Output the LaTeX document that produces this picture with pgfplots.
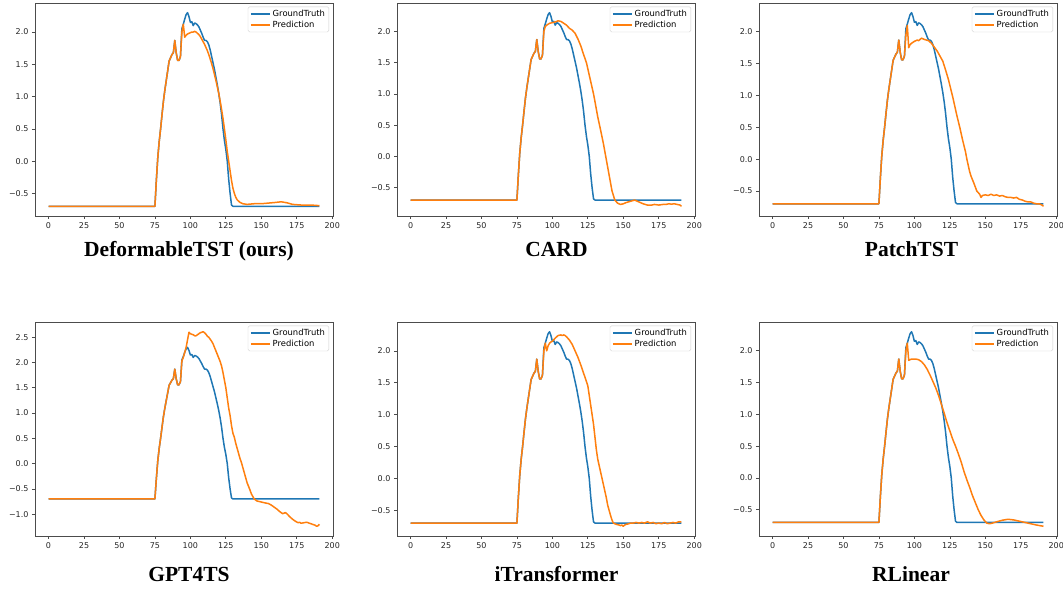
\documentclass[border=0pt]{standalone}
\usepackage{pgfplots}
\pgfplotsset{compat=1.18}
\usepackage{pgfplotstable}
\usepackage{fontspec}
\setmainfont{DejaVu Sans}
\newfontfamily\titlefont{Liberation Serif}
\definecolor{mplblue}{HTML}{1F77B4}
\definecolor{mplorange}{HTML}{FF7F0E}

\pgfplotstableread{
x y
0 -0.7
75 -0.7
76 -0.3
77 0.05
78 0.3
79 0.5
80 0.72
81 0.93
82 1.1
83 1.25
84 1.4
85 1.55
86 1.6
87 1.65
88 1.68
89 1.87
90 1.68
91 1.56
92 1.56
93 1.62
94 2.05
95 2.12
96 2.2
97 2.27
98 2.3
99 2.24
100 2.15
101 2.16
102 2.1
103 2.14
104 2.13
105 2.11
106 2.08
107 2.03
108 1.98
109 1.92
110 1.87
111 1.87
112 1.85
113 1.8
114 1.72
115 1.62
116 1.52
117 1.42
118 1.3
119 1.18
120 1.05
121 0.9
122 0.72
123 0.5
124 0.32
125 0.18
126 0.0
127 -0.28
128 -0.5
129 -0.68
130 -0.7
191 -0.7
}\gt

\pgfplotstableread{
x y
0 -0.7
75 -0.7
76 -0.3
77 0.05
78 0.3
79 0.5
80 0.72
81 0.93
82 1.1
83 1.25
84 1.4
85 1.55
86 1.6
87 1.65
88 1.68
89 1.87
90 1.68
91 1.56
92 1.56
93 1.62
94 2.0
95 2.12
96 1.92
97 1.95
98 1.97
99 1.98
100 1.99
101 2.0
102 2.0
103 2.01
104 2.0
105 1.98
106 1.96
107 1.93
108 1.89
109 1.85
110 1.81
111 1.76
112 1.71
113 1.65
114 1.58
115 1.51
116 1.43
117 1.34
118 1.25
119 1.15
120 1.05
121 0.93
122 0.8
123 0.66
124 0.5
125 0.33
126 0.15
127 0.0
128 -0.15
129 -0.3
130 -0.42
131 -0.5
132 -0.56
133 -0.6
134 -0.62
135 -0.64
137 -0.66
140 -0.67
145 -0.66
150 -0.66
155 -0.65
160 -0.64
164 -0.63
168 -0.645
172 -0.67
178 -0.68
185 -0.68
191 -0.69
}\pdef

\pgfplotstableread{
x y
0 -0.7
75 -0.7
76 -0.3
77 0.05
78 0.3
79 0.5
80 0.72
81 0.93
82 1.1
83 1.25
84 1.4
85 1.55
86 1.6
87 1.65
88 1.68
89 1.87
90 1.68
91 1.56
92 1.56
93 1.62
94 2.0
95 2.08
96 2.1
98 2.13
100 2.14
102 2.15
104 2.17
106 2.16
108 2.13
110 2.1
112 2.05
114 2.02
116 1.97
118 1.88
120 1.77
122 1.63
124 1.5
126 1.3
128 1.1
129 1.0
130 0.88
132 0.63
134 0.42
136 0.2
138 -0.05
140 -0.3
142 -0.55
144 -0.7
146 -0.75
148 -0.77
150 -0.76
152 -0.74
155 -0.72
158 -0.7
161 -0.73
164 -0.76
167 -0.78
170 -0.78
172 -0.77
175 -0.78
178 -0.77
180 -0.77
182 -0.76
184 -0.765
186 -0.76
188 -0.77
190 -0.78
191 -0.8
}\pcard

\pgfplotstableread{
x y
0 -0.7
75 -0.7
76 -0.3
77 0.05
78 0.3
79 0.5
80 0.72
81 0.93
82 1.1
83 1.25
84 1.4
85 1.55
86 1.6
87 1.65
88 1.68
89 1.87
90 1.68
91 1.56
92 1.56
93 1.62
94 1.95
95 2.1
96 1.75
97 1.8
98 1.82
100 1.85
102 1.87
103 1.86
105 1.9
107 1.88
110 1.86
112 1.82
114 1.76
116 1.7
118 1.62
120 1.54
122 1.4
124 1.25
126 1.07
127 0.98
128 0.88
130 0.68
132 0.5
134 0.3
136 0.12
137 0.0
138 -0.1
139 -0.2
140 -0.27
142 -0.38
144 -0.5
146 -0.55
147 -0.6
148 -0.57
150 -0.56
152 -0.57
154 -0.55
156 -0.57
158 -0.56
160 -0.58
162 -0.57
164 -0.59
166 -0.6
168 -0.6
170 -0.61
172 -0.6
174 -0.63
176 -0.64
178 -0.66
180 -0.67
182 -0.67
184 -0.69
186 -0.7
188 -0.7
190 -0.72
191 -0.74
}\ppatch

\pgfplotstableread{
x y
0 -0.7
75 -0.7
76 -0.3
77 0.05
78 0.3
79 0.5
80 0.72
81 0.93
82 1.1
83 1.25
84 1.4
85 1.55
86 1.6
87 1.65
88 1.68
89 1.87
90 1.68
91 1.56
92 1.56
93 1.62
94 2.03
95 2.1
96 2.2
97 2.3
98 2.45
99 2.6
100 2.57
101 2.56
102 2.55
103 2.53
104 2.53
105 2.55
106 2.57
107 2.59
108 2.6
109 2.61
110 2.59
111 2.56
112 2.52
113 2.5
114 2.46
115 2.42
116 2.37
117 2.3
118 2.23
119 2.16
120 2.09
121 2.02
122 1.93
123 1.8
124 1.65
125 1.5
126 1.3
127 1.1
128 0.95
129 0.75
130 0.6
131 0.52
132 0.4
133 0.3
134 0.2
135 0.1
136 0.02
137 -0.08
138 -0.18
139 -0.28
140 -0.38
141 -0.45
142 -0.52
143 -0.6
144 -0.65
145 -0.7
147 -0.74
150 -0.76
153 -0.78
155 -0.79
157 -0.82
159 -0.86
161 -0.9
163 -0.95
165 -0.99
167 -0.97
168 -0.99
170 -1.05
172 -1.1
174 -1.14
176 -1.17
177 -1.16
178 -1.18
180 -1.17
182 -1.16
184 -1.18
186 -1.2
188 -1.22
189 -1.24
190 -1.23
191 -1.2
}\pgpt

\pgfplotstableread{
x y
0 -0.7
75 -0.7
76 -0.3
77 0.05
78 0.3
79 0.5
80 0.72
81 0.93
82 1.1
83 1.25
84 1.4
85 1.55
86 1.6
87 1.65
88 1.68
89 1.87
90 1.68
91 1.56
92 1.56
93 1.62
94 2.0
95 2.12
96 2.0
97 2.08
98 2.12
99 2.14
100 2.15
102 2.2
104 2.24
106 2.25
107 2.24
108 2.25
109 2.24
110 2.22
112 2.17
114 2.1
116 2.0
118 1.9
120 1.78
122 1.65
124 1.52
125 1.45
126 1.3
127 1.15
128 1.0
129 0.85
130 0.65
131 0.45
132 0.3
133 0.2
134 0.1
135 0.0
136 -0.1
137 -0.2
138 -0.3
139 -0.42
140 -0.5
141 -0.58
142 -0.65
143 -0.7
145 -0.72
147 -0.73
148 -0.74
149 -0.73
150 -0.75
151 -0.73
152 -0.72
154 -0.71
155 -0.7
157 -0.7
159 -0.69
161 -0.7
163 -0.69
165 -0.7
167 -0.68
169 -0.7
171 -0.69
173 -0.71
175 -0.7
177 -0.71
179 -0.69
181 -0.71
183 -0.7
185 -0.69
187 -0.7
189 -0.68
191 -0.68
}\pitr

\pgfplotstableread{
x y
0 -0.7
75 -0.7
76 -0.3
77 0.05
78 0.3
79 0.5
80 0.72
81 0.93
82 1.1
83 1.25
84 1.4
85 1.55
86 1.6
87 1.65
88 1.68
89 1.87
90 1.68
91 1.56
92 1.56
93 1.62
94 2.0
95 2.12
96 1.85
97 1.86
98 1.87
100 1.87
101 1.87
103 1.86
105 1.83
107 1.78
109 1.71
111 1.62
113 1.52
115 1.42
117 1.3
119 1.16
121 1.02
123 0.87
125 0.74
127 0.61
129 0.5
131 0.38
133 0.25
135 0.1
137 -0.03
139 -0.15
141 -0.28
143 -0.39
145 -0.5
147 -0.59
149 -0.66
151 -0.71
153 -0.72
155 -0.71
158 -0.69
162 -0.665
166 -0.65
170 -0.66
174 -0.68
178 -0.7
182 -0.72
186 -0.74
191 -0.76
}\prl

\pgfplotsset{
  panel/.style={
    scale only axis, width=298pt,
    xmin=-9.55, xmax=200.55,
    xtick={0,25,50,75,100,125,150,175,200},
    xticklabels={0,25,50,75,100,125,150,175,200},
    ytick={-0.5,0,0.5,1,1.5,2},
    yticklabels={−0.5,0.0,0.5,1.0,1.5,2.0},
    tick align=outside, tick pos=left,
    major tick length=3pt,
    axis line style={black!70, line width=0.7pt},
    every tick/.style={black!70, line width=0.7pt},
    tick label style={font=\fontsize{8}{9}\selectfont, text=black!85},
    legend cell align=left,
    legend image code/.code={\draw[#1, line width=1.7pt] (0pt,0pt) -- (19pt,0pt);},
    legend style={at={(0.987,0.983)}, anchor=north east, draw=black!20,
      rounded corners=1.5pt, fill=white, font=\fontsize{8.4}{10}\selectfont,
      inner xsep=2pt, inner ysep=1.2pt, row sep=-1pt},
  },
  gtline/.style={mplblue, line width=1.5pt, line join=round},
  prline/.style={mplorange, line width=1.5pt, line join=round},
}

\newcommand{\ttl}[1]{{\titlefont\bfseries\fontsize{21.5}{24}\selectfont #1}}

\begin{document}
\begin{tikzpicture}
\path[use as bounding box] (0,0) rectangle (1063pt,589pt);

% Row 1
\begin{axis}[panel, at={(35pt,373pt)}, anchor=south west, height=213pt, ymin=-0.85, ymax=2.45]
\addplot[gtline] table {\gt}; \addlegendentry{GroundTruth}
\addplot[prline] table {\pdef}; \addlegendentry{Prediction}
\end{axis}
\begin{axis}[panel, at={(397pt,373pt)}, anchor=south west, height=213pt, ymin=-0.955, ymax=2.455]
\addplot[gtline] table {\gt}; \addlegendentry{GroundTruth}
\addplot[prline] table {\pcard}; \addlegendentry{Prediction}
\end{axis}
\begin{axis}[panel, at={(759pt,373pt)}, anchor=south west, height=213pt, ymin=-0.892, ymax=2.452]
\addplot[gtline] table {\gt}; \addlegendentry{GroundTruth}
\addplot[prline] table {\ppatch}; \addlegendentry{Prediction}
\end{axis}

% Row 2
\begin{axis}[panel, at={(35pt,53pt)}, anchor=south west, height=214pt, ymin=-1.4325, ymax=2.8025,
  ytick={-1,-0.5,0,0.5,1,1.5,2,2.5}, yticklabels={−1.0,−0.5,0.0,0.5,1.0,1.5,2.0,2.5}]
\addplot[gtline] table {\gt}; \addlegendentry{GroundTruth}
\addplot[prline] table {\pgpt}; \addlegendentry{Prediction}
\end{axis}
\begin{axis}[panel, at={(397pt,53pt)}, anchor=south west, height=214pt, ymin=-0.9025, ymax=2.4525]
\addplot[gtline] table {\gt}; \addlegendentry{GroundTruth}
\addplot[prline] table {\pitr}; \addlegendentry{Prediction}
\end{axis}
\begin{axis}[panel, at={(759pt,53pt)}, anchor=south west, height=214pt, ymin=-0.913, ymax=2.453]
\addplot[gtline] table {\gt}; \addlegendentry{GroundTruth}
\addplot[prline] table {\prl}; \addlegendentry{Prediction}
\end{axis}

\node[anchor=base] at (189pt,332pt) {\ttl{DeformableTST (ours)}};
\node[anchor=base] at (556.5pt,332pt) {\ttl{CARD}};
\node[anchor=base] at (911.5pt,332pt) {\ttl{PatchTST}};
\node[anchor=base] at (189pt,7pt) {\ttl{GPT4TS}};
\node[anchor=base] at (556.5pt,7pt) {\ttl{iTransformer}};
\node[anchor=base] at (911pt,7pt) {\ttl{RLinear}};
\end{tikzpicture}
\end{document}
